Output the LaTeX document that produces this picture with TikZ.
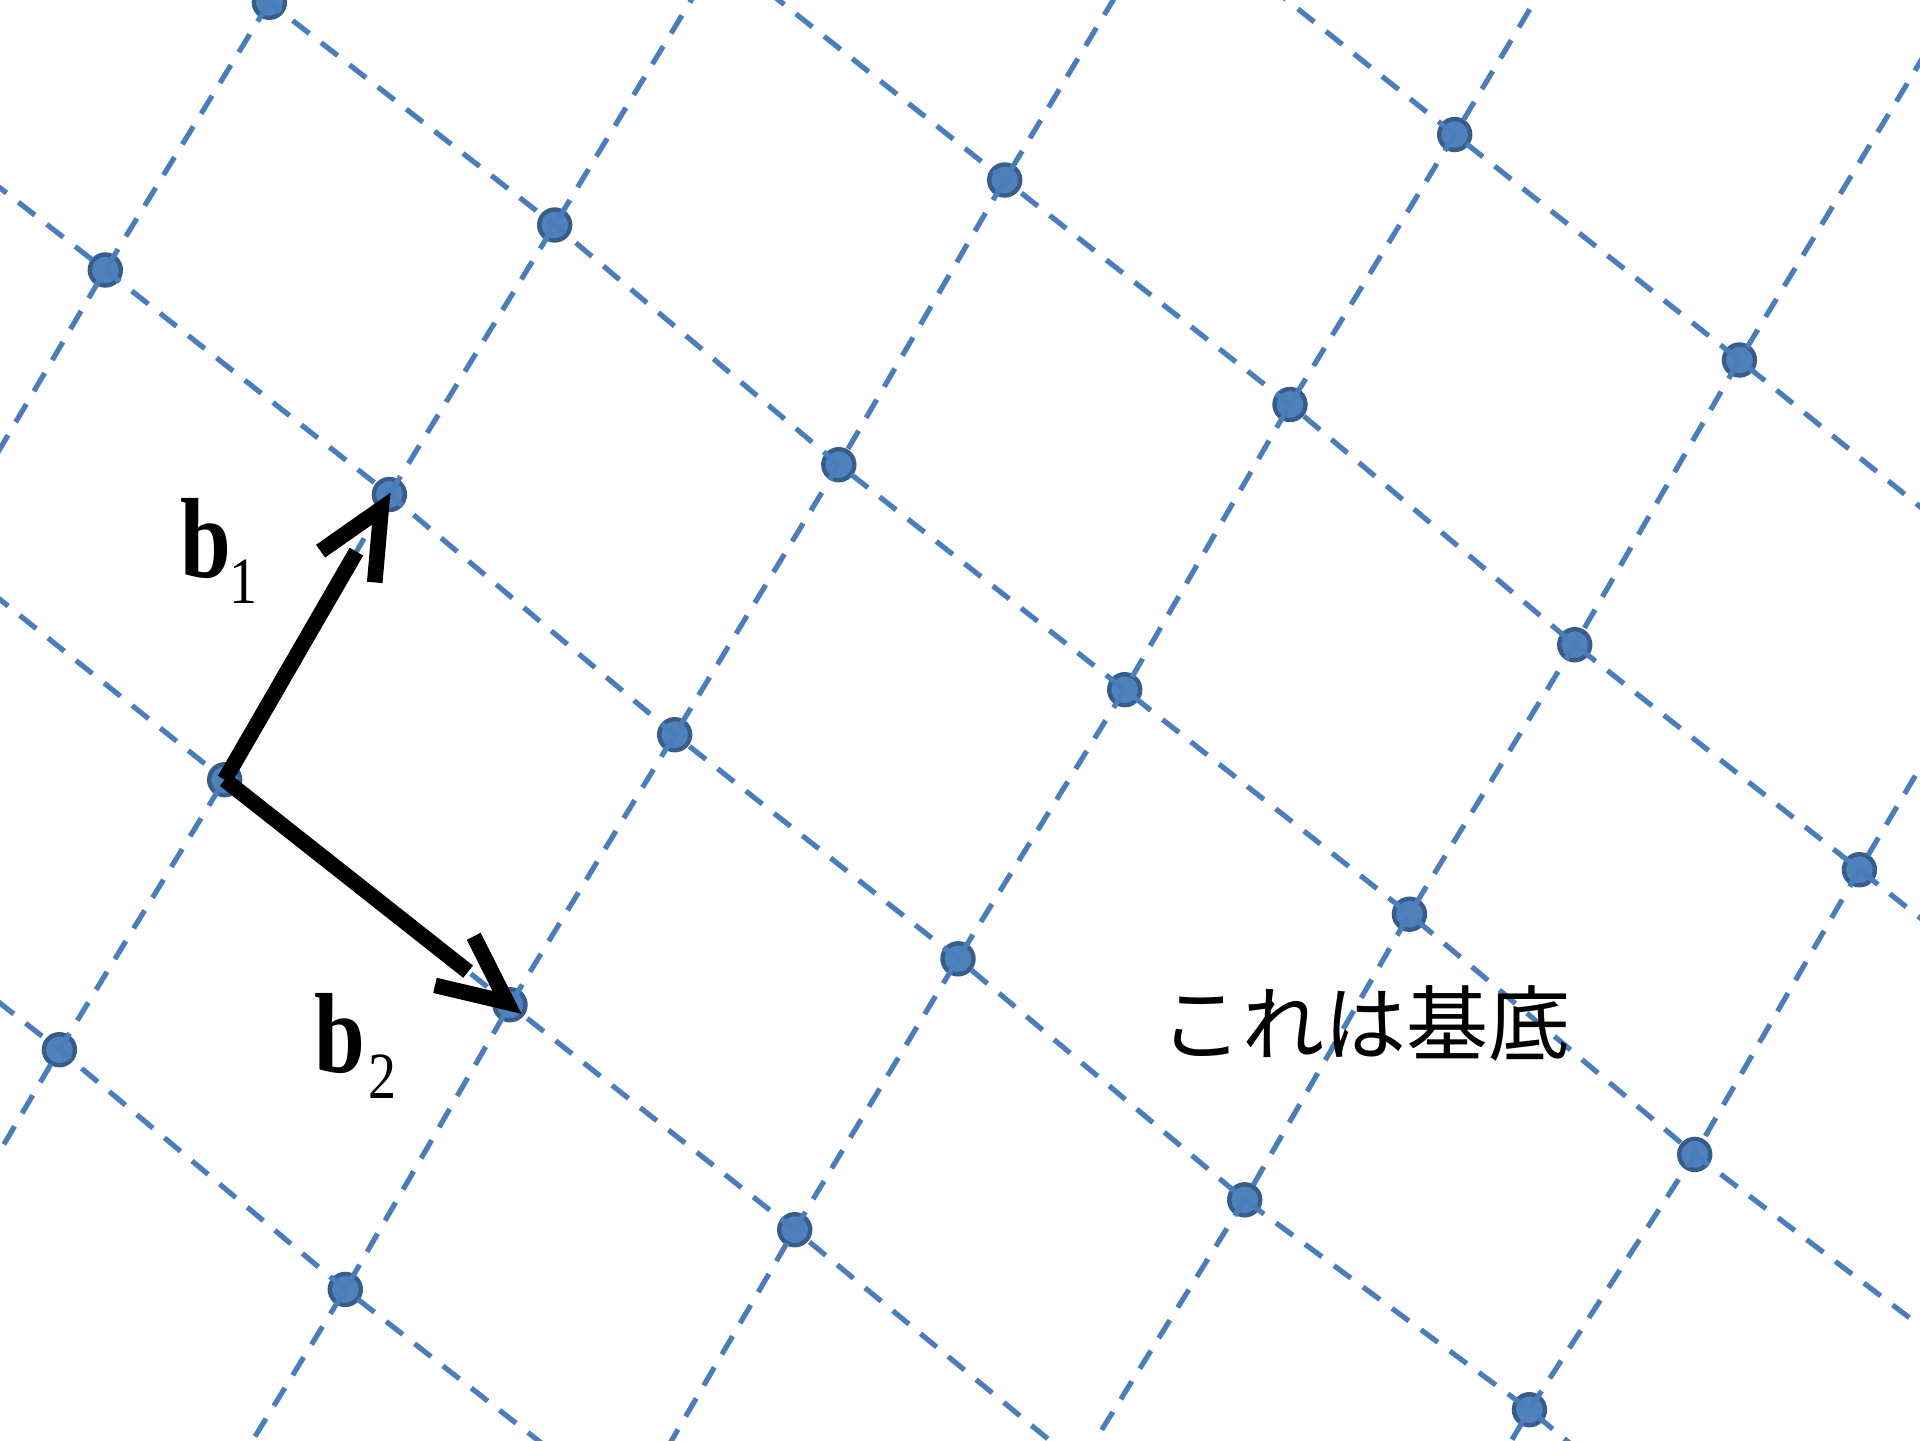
\documentclass[tikz,border=0pt]{standalone}
\usepackage{fontspec}
\setmainfont{Liberation Serif}
\newfontfamily\jpfont{Noto Sans CJK JP}
\usepackage{graphicx}
\usetikzlibrary{calc}
\definecolor{dotfill}{HTML}{4F81BD}
\definecolor{dotedge}{HTML}{385D8A}
\definecolor{latblue}{HTML}{4A7EBB}
\tikzset{
  latdot/.style={circle, fill=dotfill, draw=dotedge, line width=2.2pt, minimum size=15.5pt, inner sep=0pt},
  latline/.style={draw=latblue, line width=2.6pt, dash pattern=on 10.5pt off 7.5pt, line join=round},
  vec/.style={draw=black, line width=7.8pt},
  vechead/.style={vec, line join=miter},
  veclabel/.style={anchor=base west, inner sep=0pt, font=\fontsize{57}{57}\selectfont\bfseries},
}
\newcommand{\subdig}[1]{\raisebox{-13pt}{\fontsize{33}{33}\selectfont\mdseries\scalebox{0.85}[1]{#1}}}
\begin{document}
\begin{tikzpicture}[x=0.5pt,y=-0.5pt]
\useasboundingbox (0,0) rectangle (1920,1440);
\clip (0,0) rectangle (1920,1440);
% fitted lattice (index = i+2, j+2)
\foreach \I in {0,...,8}{
  \foreach \J in {0,...,7}{
    \coordinate (L\I\J) at ({224.7+165*(\I-2)+285*(\J-2)},{779.7-275.5*(\I-2)+228.5*(\J-2)});
  }
}
% observed positions of the visible lattice points
\coordinate (L22) at (224.7,779.7);
\coordinate (L32) at (389.4,494.5);
\coordinate (L42) at (554.7,225);
\coordinate (L31) at (105.3,270);
\coordinate (L41) at (269.4,2.3);
\coordinate (L23) at (510,1004.7);
\coordinate (L33) at (674.7,734.7);
\coordinate (L43) at (838.8,464.7);
\coordinate (L53) at (1004.7,180);
\coordinate (L12) at (59.4,1049.7);
\coordinate (L13) at (345.3,1289.4);
\coordinate (L24) at (794.7,1229.7);
\coordinate (L34) at (958,958.8);
\coordinate (L44) at (1124.7,689.7);
\coordinate (L54) at (1290,404.5);
\coordinate (L64) at (1454.7,134.5);
\coordinate (L35) at (1244.7,1199.8);
\coordinate (L45) at (1409.4,914.2);
\coordinate (L55) at (1574.7,644.7);
\coordinate (L65) at (1739.4,360);
\coordinate (L36) at (1529.4,1409.7);
\coordinate (L46) at (1694.7,1154.4);
\coordinate (L56) at (1859.4,869.7);
% dots
\foreach \c in {22,32,42,31,41,23,33,43,53,12,13,24,34,44,54,64,35,45,55,65,36,46,56}
  \node[latdot] (d\c) at (L\c) {};
% dashed lattice lines
\foreach \I in {1,...,6}
  \draw[latline] (L\I0) \foreach \J in {1,...,7}{ -- (L\I\J)};
\foreach \J in {1,...,6}
  \draw[latline] (L0\J) \foreach \I in {1,...,8}{ -- (L\I\J)};
% basis vectors
\coordinate (a1) at ($(d32.center)!-1pt!(d22.center)$);
\coordinate (a2) at ($(d23.center)!-7.3pt!(d22.center)$);
\coordinate (j1) at ($(a1)!9.2pt!(d22.center)$);
\coordinate (j2) at ($(a2)!9.2pt!(d22.center)$);
\draw[vec] (d22.center) -- ($(a1)!34pt!(d22.center)$);
\draw[vechead] ($(j1)!37pt!25:(d22.center)$) -- (j1) -- ($(j1)!37pt!-25:(d22.center)$);
\draw[vec] (d22.center) -- ($(a2)!34pt!(d22.center)$);
\draw[vechead] ($(j2)!37pt!25:(d22.center)$) -- (j2) -- ($(j2)!37pt!-25:(d22.center)$);
% labels
\node[veclabel] (lb1) at (180,577) {\scalebox{0.8}[1]{b}\kern-0.8pt\subdig{1}};
\node[veclabel] (lb2) at (314.5,1072) {\scalebox{0.8}[1]{b}\kern1.6pt\subdig{2}};
\node[inner sep=0pt, font=\jpfont\fontsize{41}{41}\selectfont] (jt) at (1365,1023.5) {これは基底};
\end{tikzpicture}
\end{document}
